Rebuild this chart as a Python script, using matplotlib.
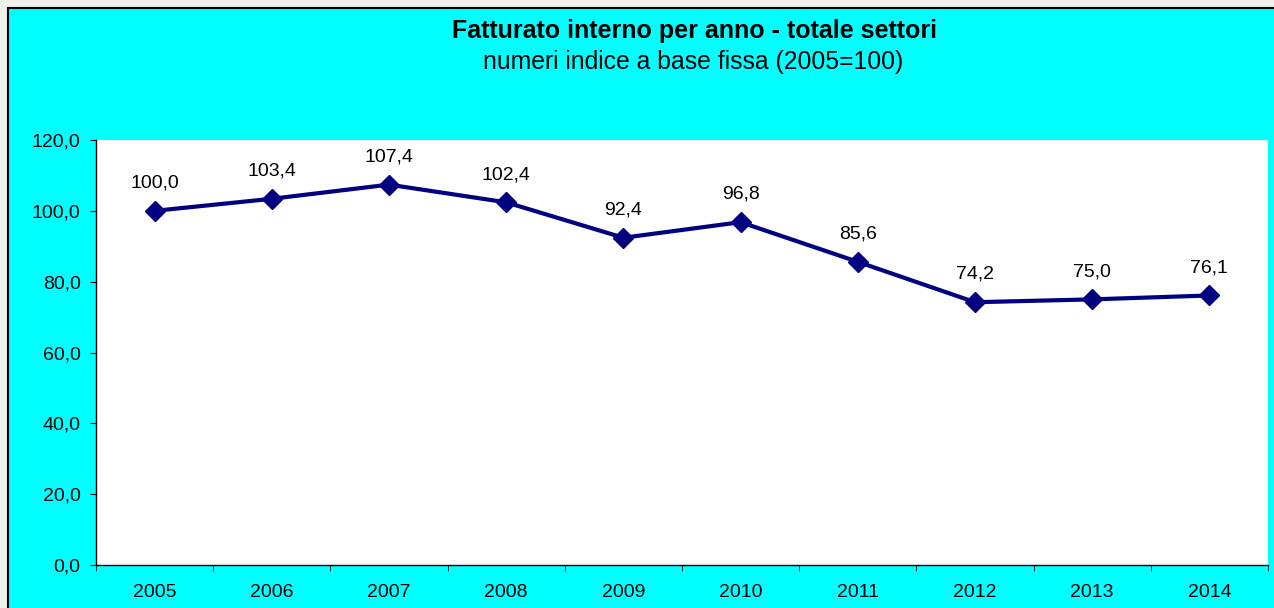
import matplotlib.pyplot as plt
from matplotlib.patches import Rectangle
import numpy as np

plt.rcParams['font.family'] = ['Liberation Sans', 'DejaVu Sans']

# data
years = ['2005', '2006', '2007', '2008', '2009', '2010', '2011', '2012', '2013', '2014']
values = [100.0, 103.4, 107.4, 102.4, 92.4, 96.8, 85.6, 74.2, 75.0, 76.1]
y_ticks = [0, 20, 40, 60, 80, 100, 120]

def fmt(v):
    # italian decimal comma
    return ('%.1f' % v).replace('.', ',')

fig = plt.figure(figsize=(12.74, 6.08), dpi=100, facecolor='#f0f0ec')

# cyan chart area with black frame
bg = Rectangle((8 / 1274, -0.01), 1.0, 1 - 8 / 608 + 0.01, transform=fig.transFigure,
               facecolor='#00ffff', edgecolor='black', linewidth=1.5, zorder=-1)
fig.patches.append(bg)

ax = fig.add_axes([96 / 1274, 1 - 565 / 608, (1268 - 96) / 1274, (565 - 140) / 608])
ax.set_facecolor('white')

x = np.arange(len(years))
ax.plot(x, values, color='#000080', linewidth=3, marker='D', markersize=10,
        markerfacecolor='#000080', markeredgecolor='#000080', zorder=3)

for xi, v in zip(x, values):
    ax.annotate(fmt(v), (xi, v), xytext=(0, 20), textcoords='offset points',
                ha='center', va='center', fontsize=14, color='black')

ax.set_xlim(-0.5, len(years) - 0.5)
ax.set_ylim(0, 120)

# category labels centred, ticks on boundaries
ax.set_xticks(x)
ax.set_xticklabels(years, fontsize=14)
ax.tick_params(axis='x', which='major', length=0, pad=14)
ax.set_xticks(np.arange(-0.5, len(years), 1), minor=True)
ax.tick_params(axis='x', which='minor', length=4.5, direction='out', color='black')

ax.set_yticks(y_ticks)
ax.set_yticklabels([fmt(t) for t in y_ticks], fontsize=14)
ax.tick_params(axis='y', length=4.5, direction='out', pad=6.5, color='black')

for side in ['top', 'right']:
    ax.spines[side].set_visible(False)
for side in ['left', 'bottom']:
    ax.spines[side].set_color('black')
    ax.spines[side].set_linewidth(1)

fig.text(695 / 1274, 1 - 31 / 608, 'Fatturato interno per anno - totale settori',
         ha='center', va='center', fontsize=18, fontweight='bold')
fig.text(693 / 1274, 1 - 62 / 608, 'numeri indice a base fissa (2005=100)',
         ha='center', va='center', fontsize=17.8)

fig.savefig('out.png', dpi=100, facecolor=fig.get_facecolor())
